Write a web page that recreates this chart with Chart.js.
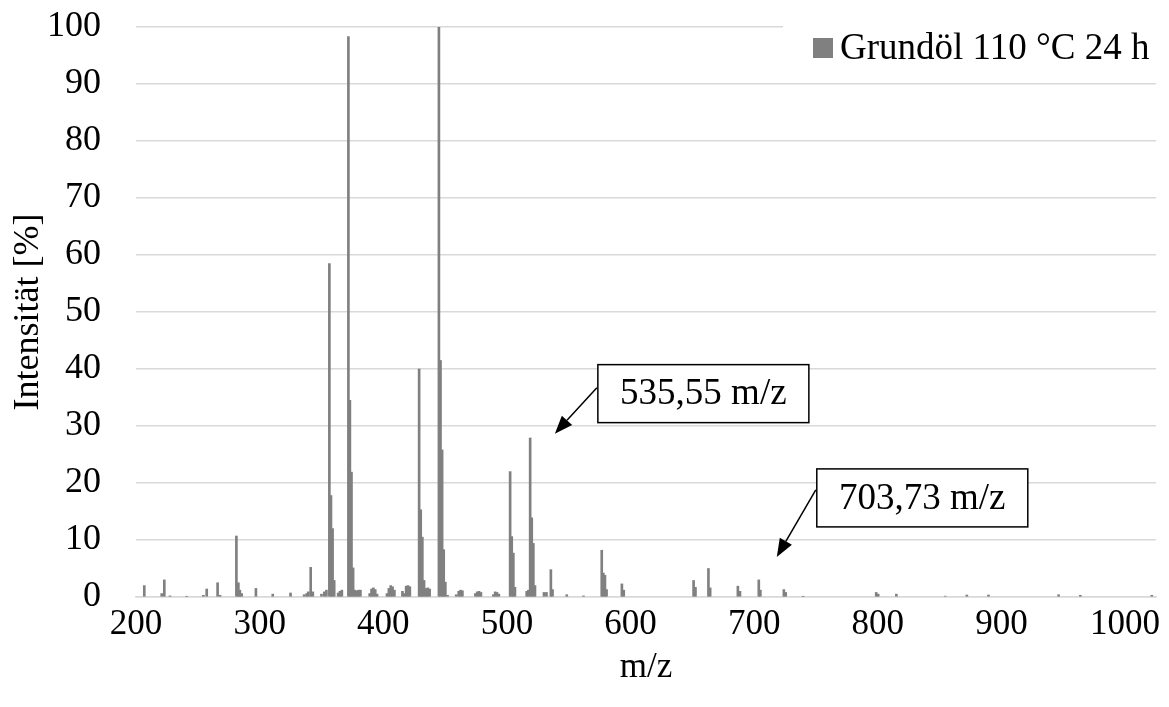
<!DOCTYPE html>
<html>
<head>
<meta charset="utf-8">
<script src="https://cdn.jsdelivr.net/npm/chart.js@4.4.1/dist/chart.umd.min.js"></script>
<style>
  html, body { margin: 0; padding: 0; background: #ffffff; }
  #wrap { width: 1169px; height: 707px; }
</style>
</head>
<body>
<div id="wrap"><canvas id="spectrum" width="1169" height="707"></canvas></div>
<script>
// Mass spectrum of the base oil after 24 h at 110 °C
const seriesLabel = 'Grundöl 110 °C 24 h';

const massToCharge = [
  206.7, 220.8, 222.9, 227.5, 241.0, 254.5, 257.2, 266.0, 268.0,
  281.2, 282.8, 284.0, 285.5, 297.0, 310.6, 325.0, 336.0, 338.0, 339.4,
  341.3, 343.0, 350.0, 352.3, 354.0, 356.4, 357.7, 359.0, 360.3,
  363.5, 365.0, 366.5, 371.8, 373.0, 374.3, 375.6, 377.0, 378.5, 380.0, 381.5,
  389.0, 390.5, 392.0, 393.5, 395.0, 403.0, 404.5, 406.0, 407.5, 409.0,
  415.5, 417.0, 418.5, 420.0, 421.5, 429.0, 430.3, 431.6, 433.0, 434.5, 436.0, 437.5,
  445.0, 446.3, 447.6, 448.9, 450.2, 452.0, 459.0, 461.0, 462.5, 464.0,
  474.5, 476.0, 477.5, 479.0, 489.0, 490.5, 492.0, 493.5,
  502.6, 503.9, 505.2, 506.5, 516.0, 517.4, 518.8, 520.1, 521.4, 522.7,
  530.0, 532.0, 535.55, 536.9, 548.4, 561.9,
  576.7, 578.0, 579.3, 580.6, 593.0, 594.5,
  651.0, 652.5, 663.0, 664.4, 686.8, 688.5, 703.73, 705.0,
  724.0, 725.5, 739.6, 798.7, 800.3, 815.0, 854.5, 872.0, 889.5,
  946.2, 963.8, 1021.6
];

const intensity = [
  2.0, 0.6, 3.0, 0.2, 0.1, 0.3, 1.4, 2.5, 0.3,
  10.7, 2.5, 1.2, 0.6, 1.5, 0.5, 0.7, 0.4, 0.6, 0.9,
  5.2, 0.9, 0.5, 0.9, 1.2, 58.5, 17.8, 12.0, 2.9,
  0.7, 1.0, 1.2, 98.3, 34.5, 21.9, 5.1, 1.2, 1.1, 1.2, 1.2,
  0.6, 1.4, 1.6, 1.3, 0.5, 0.6, 1.5, 2.0, 1.8, 1.2,
  1.0, 0.6, 1.9, 2.0, 1.8, 40.0, 15.3, 10.5, 2.9, 1.5, 1.6, 1.4,
  100.0, 41.5, 25.8, 8.3, 2.6, 0.3, 0.4, 1.0, 1.2, 1.1,
  0.6, 0.9, 1.0, 0.8, 0.4, 0.9, 0.8, 0.5,
  22.0, 10.6, 7.7, 1.7, 1.0, 1.2, 27.9, 13.9, 9.4, 2.0,
  0.8, 0.8, 4.8, 1.3, 0.4, 0.2,
  8.2, 4.2, 3.8, 1.3, 2.3, 1.2,
  2.9, 1.7, 5.0, 1.6, 1.9, 1.0, 3.0, 1.2,
  1.3, 0.8, 0.1, 0.8, 0.5, 0.5, 0.15, 0.35, 0.35,
  0.4, 0.3, 0.3
];

const xTickValues = [200, 300, 400, 500, 600, 700, 800, 900, 1000];
const yTickValues = [0, 10, 20, 30, 40, 50, 60, 70, 80, 90, 100];
const labelledPeaks = [535.55, 703.73];

const BAR_GREY = '#808080';
const GRID_GREY = '#d9d9d9';
const SERIF = "'Liberation Serif', 'Times New Roman', serif";

// Callout boxes, placed relative to the peak they name (pixel offsets)
const callouts = [
  { peak: labelledPeaks[0], tipDx: 4, tipDy: 136, boxDx: 47, boxTop: -205, boxW: 211, boxH: 58, tailDy: -46 },
  { peak: labelledPeaks[1], tipDx: 18, tipDy: 23, boxDx: 58, boxTop: -111, boxW: 211, boxH: 58, tailDy: -67 }
];

const calloutText = v => v.toFixed(2).replace('.', ',') + ' m/z';

const overlayPlugin = {
  id: 'overlay',
  afterDatasetsDraw(chart) {
    const { ctx, scales: { x, y } } = chart;
    const ds = chart.data.datasets[0];

    // legend in the upper right corner, on a white panel
    ctx.save();
    ctx.fillStyle = '#ffffff';
    ctx.fillRect(783, 14, 386, 64);
    ctx.fillStyle = ds.backgroundColor;
    ctx.fillRect(813, 38, 20, 20);
    ctx.fillStyle = '#000000';
    ctx.font = '37px ' + SERIF;
    ctx.textBaseline = 'middle';
    ctx.textAlign = 'left';
    ctx.fillText(ds.label, 840, 49);
    ctx.restore();

    // callouts naming the labelled peaks
    callouts.forEach(c => {
      const idx = massToCharge.indexOf(c.peak);
      const px = x.getPixelForValue(c.peak);
      const py = y.getPixelForValue(intensity[idx]);
      const tipX = px + c.tipDx, tipY = py - c.tipDy;
      const boxX = px + c.boxDx, boxY = py + c.boxTop;
      const tailX = boxX - 1, tailY = tipY + c.tailDy;

      ctx.save();
      ctx.fillStyle = '#ffffff';
      ctx.fillRect(boxX, boxY, c.boxW, c.boxH);
      ctx.strokeStyle = '#000000';
      ctx.lineWidth = 1.5;
      ctx.strokeRect(boxX, boxY, c.boxW, c.boxH);
      ctx.fillStyle = '#000000';
      ctx.font = '37px ' + SERIF;
      ctx.textAlign = 'center';
      ctx.textBaseline = 'middle';
      ctx.fillText(calloutText(c.peak), boxX + c.boxW / 2, boxY + c.boxH / 2 + 1);

      // arrow shaft and filled head
      const ang = Math.atan2(tipY - tailY, tipX - tailX);
      const headLen = 18, headHalf = 7;
      const baseX = tipX - headLen * Math.cos(ang), baseY = tipY - headLen * Math.sin(ang);
      ctx.lineWidth = 1.5;
      ctx.beginPath();
      ctx.moveTo(tailX, tailY);
      ctx.lineTo(baseX, baseY);
      ctx.stroke();
      ctx.beginPath();
      ctx.moveTo(tipX, tipY);
      ctx.lineTo(baseX + headHalf * Math.sin(ang), baseY - headHalf * Math.cos(ang));
      ctx.lineTo(baseX - headHalf * Math.sin(ang), baseY + headHalf * Math.cos(ang));
      ctx.closePath();
      ctx.fill();
      ctx.restore();
    });
  }
};

new Chart(document.getElementById('spectrum'), {
  type: 'bar',
  data: {
    datasets: [{
      label: seriesLabel,
      data: massToCharge.map((m, i) => ({ x: m, y: intensity[i] })),
      backgroundColor: BAR_GREY,
      borderWidth: 0,
      barThickness: 2,
      grouped: false
    }]
  },
  options: {
    responsive: false,
    animation: false,
    devicePixelRatio: 1,
    layout: { padding: { top: 27, right: 13, left: 0, bottom: 0 } },
    plugins: { legend: { display: false }, tooltip: { enabled: false } },
    scales: {
      x: {
        type: 'linear',
        min: 200,
        max: 1025,
        offset: false,
        afterFit: s => { s.height = 110; s.paddingLeft = 0; s.paddingRight = 0; },
        afterBuildTicks: s => { s.ticks = xTickValues.map(v => ({ value: v })); },
        grid: { display: false, drawTicks: false },
        border: { display: true, color: GRID_GREY, width: 1.5 },
        ticks: { color: '#000000', font: { family: SERIF, size: 35 }, padding: 7, maxRotation: 0, callback: v => String(v) },
        title: { display: true, text: 'm/z', color: '#000000', font: { family: SERIF, size: 35 }, padding: { bottom: 18 } }
      },
      y: {
        min: 0,
        max: 100,
        afterFit: s => { s.width = 136; s.paddingTop = 0; s.paddingBottom = 0; },
        afterBuildTicks: s => { s.ticks = yTickValues.map(v => ({ value: v })); },
        grid: { color: GRID_GREY, lineWidth: 1.5, drawTicks: false },
        border: { display: false },
        ticks: { color: '#000000', font: { family: SERIF, size: 36 }, padding: 35, callback: v => String(v) },
        title: { display: true, text: 'Intensität [%]', color: '#000000', font: { family: SERIF, size: 36 }, padding: { top: 7 } }
      }
    }
  },
  plugins: [overlayPlugin]
});
</script>
</body>
</html>
